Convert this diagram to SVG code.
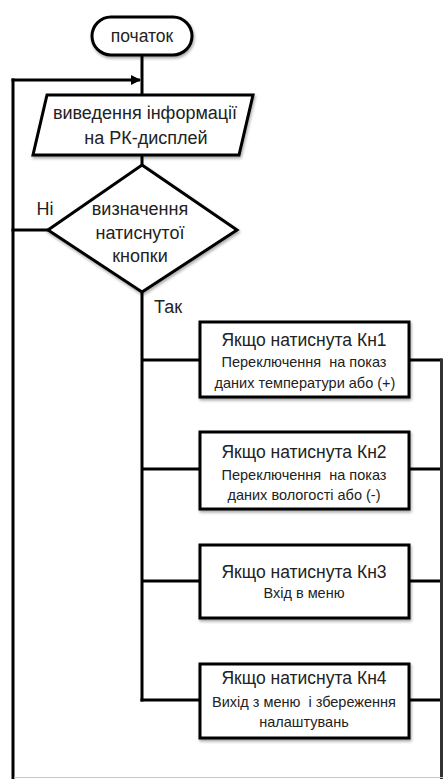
<svg xmlns="http://www.w3.org/2000/svg" width="443" height="779" viewBox="0 0 443 779">
<defs>
<marker id="arr" markerWidth="10" markerHeight="10" refX="9" refY="5" orient="auto" markerUnits="userSpaceOnUse">
<path d="M0,0 L10,5 L0,10 Z" fill="#000"/>
</marker>
<filter id="sh" x="-10%" y="-10%" width="125%" height="130%">
<feGaussianBlur in="SourceAlpha" stdDeviation="1.5"/>
<feOffset dx="1" dy="2" result="b"/>
<feComponentTransfer><feFuncA type="linear" slope="0.35"/></feComponentTransfer>
<feMerge><feMergeNode/><feMergeNode in="SourceGraphic"/></feMerge>
</filter>
</defs>
<style>
.shape{fill:#fff;stroke:#000;stroke-width:3;filter:url(#sh)}
.ln{fill:none;stroke:#000;stroke-width:3}
text{font-family:"Liberation Sans",Arial,sans-serif;fill:#222;text-anchor:middle;white-space:pre}
.big{font-size:17.5px}
.dia{font-size:18px}
.mid{font-size:18px}
.sm{font-size:14.5px}
</style>
<rect width="443" height="779" fill="#fff"/>
<g id="connectors">
<line class="ln" x1="142" y1="55" x2="142" y2="95"/>
<line class="ln" x1="142" y1="155" x2="142" y2="165"/>
<line class="ln" x1="142" y1="292" x2="142" y2="701.5"/>
<line class="ln" x1="140.5" y1="700" x2="200" y2="700"/>
<line class="ln" x1="142" y1="360" x2="200" y2="360"/>
<line class="ln" x1="142" y1="469" x2="200" y2="469"/>
<line class="ln" x1="142" y1="581" x2="200" y2="581"/>
<line class="ln" x1="409" y1="360" x2="442" y2="360"/>
<line class="ln" x1="409" y1="469" x2="442" y2="469"/>
<line class="ln" x1="409" y1="581" x2="442" y2="581"/>
<line class="ln" x1="409" y1="700" x2="442" y2="700"/>
<line x1="441.5" y1="358.5" x2="441.5" y2="779" stroke="#333" stroke-width="3"/>
<line class="ln" x1="48" y1="230" x2="11.5" y2="230"/>
<line class="ln" x1="13" y1="779" x2="13" y2="78.5"/>
<line class="ln" x1="11.5" y1="80" x2="140" y2="80" marker-end="url(#arr)"/>
<line x1="14" y1="777.5" x2="443" y2="777.5" stroke="#c8c8c8" stroke-width="1"/>
<text class="dia" x="45" y="215">Ні</text>
<text class="dia" x="168" y="313">Так</text>
</g>
<g id="start">
<rect class="shape" x="92" y="17" width="100" height="38" rx="19"/>
<text class="big" x="142" y="42">початок</text>
</g>
<g id="display">
<polygon class="shape" points="47,95 253,95 239,155 33,155"/>
<text class="mid" x="145" y="119">виведення інформації</text>
<text class="mid" x="146" y="144">на РК-дисплей</text>
</g>
<g id="decision">
<polygon class="shape" points="142,165 237,230 142,292 48,230"/>
<text class="dia" x="140" y="215">визначення</text>
<text class="dia" x="140" y="239">натиснутої</text>
<text class="dia" x="140" y="262">кнопки</text>
</g>
<g id="kn1">
<rect class="shape" x="200" y="322" width="209" height="75"/>
<text class="big" x="304" y="346">Якщо натиснута Кн1</text>
<text class="sm" x="304" y="367">Переключення  на показ</text>
<text class="sm" x="305" y="388">даних температури або (+)</text>
</g>
<g id="kn2">
<rect class="shape" x="200" y="432" width="209" height="77"/>
<text class="big" x="304" y="458">Якщо натиснута Кн2</text>
<text class="sm" x="304" y="480">Переключення  на показ</text>
<text class="sm" x="304" y="500">даних вологості або (-)</text>
</g>
<g id="kn3">
<rect class="shape" x="200" y="545" width="209" height="73"/>
<text class="big" x="304" y="578">Якщо натиснута Кн3</text>
<text class="sm" x="304" y="598">Вхід в меню</text>
</g>
<g id="kn4">
<rect class="shape" x="200" y="664" width="209" height="74"/>
<text class="big" x="304" y="684">Якщо натиснута Кн4</text>
<text class="sm" x="304" y="707">Вихід з меню  і збереження</text>
<text class="sm" x="304" y="727">налаштувань</text>
</g>
</svg>
